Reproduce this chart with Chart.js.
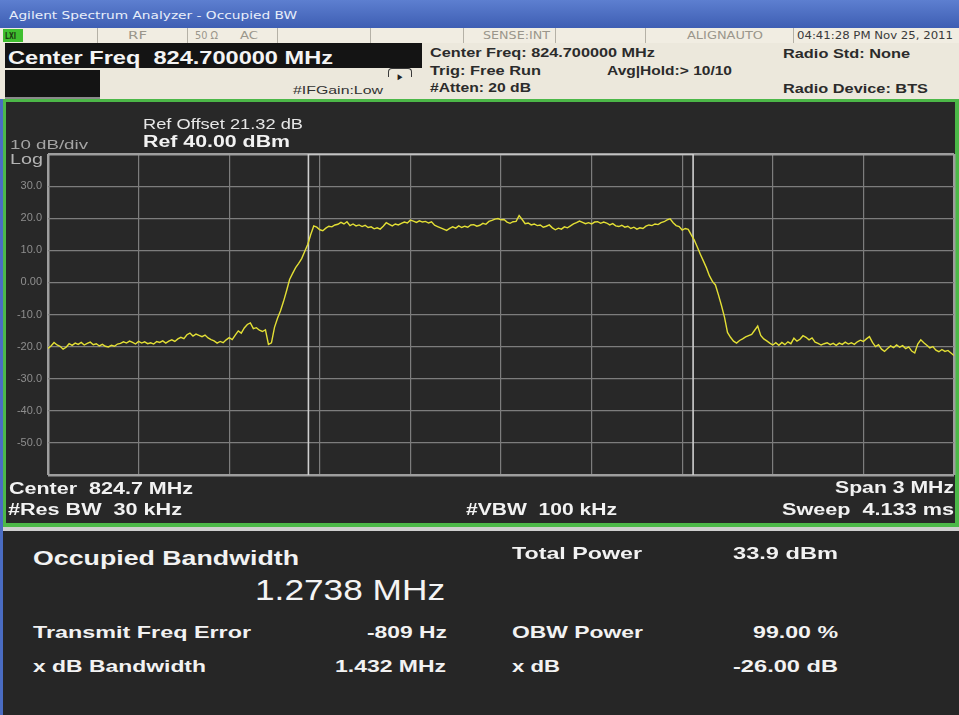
<!DOCTYPE html>
<html>
<head>
<meta charset="utf-8">
<title>Occupied BW</title>
<script src="https://cdn.jsdelivr.net/npm/chart.js@4"></script>
<style>
  body { margin: 0; width: 959px; height: 715px; overflow: hidden; position: relative; background: #262626; font-family: "Liberation Sans", Arial, sans-serif; }
  .box { position: absolute; }
  .t { position: absolute; white-space: nowrap; line-height: 1; transform-origin: 0 50%; }
  .st { font-family: "DejaVu Sans", sans-serif; font-size: 10px; color: #9a968b; }
  .hd { font-weight: bold; font-size: 13px; color: #2b2b2b; }
  .pl { color: #f2f2f2; font-weight: bold; font-size: 16px; }
  .res { color: #f2f2f2; font-weight: bold; font-size: 17px; }
  #plot { position: absolute; left: 0; top: 102px; }
</style>
</head>
<body>
<!-- window frame -->
<div class="box" style="left:0;top:0;width:959px;height:28px;background:linear-gradient(#5d7fd0,#3e5eb3);"></div>
<div class="t" style="left:9px;top:15px;font-family:'DejaVu Sans',sans-serif;font-size:11px;color:#e8eefa;" data-w="288">Agilent Spectrum Analyzer - Occupied BW</div>

<!-- status row -->
<div class="box" style="left:0;top:28px;width:959px;height:15px;background:#f1ede2;"></div>
<div class="box" style="left:97px;top:28px;width:1px;height:15px;background:#b5b1a6;"></div>
<div class="box" style="left:187px;top:28px;width:1px;height:15px;background:#b5b1a6;"></div>
<div class="box" style="left:277px;top:28px;width:1px;height:15px;background:#b5b1a6;"></div>
<div class="box" style="left:370px;top:28px;width:1px;height:15px;background:#b5b1a6;"></div>
<div class="box" style="left:463px;top:28px;width:1px;height:15px;background:#b5b1a6;"></div>
<div class="box" style="left:555px;top:28px;width:1px;height:15px;background:#b5b1a6;"></div>
<div class="box" style="left:645px;top:28px;width:1px;height:15px;background:#b5b1a6;"></div>
<div class="box" style="left:793px;top:28px;width:1px;height:15px;background:#b5b1a6;"></div>
<div class="box" style="left:3px;top:29px;width:20px;height:13px;background:#3fbf2f;"></div>
<div class="t" style="left:5px;top:36px;font-family:'DejaVu Sans',sans-serif;font-size:9px;font-weight:bold;color:#1d3a12;" data-w="11">LXI</div>
<div class="t st" style="left:128px;top:36px;" data-w="19">RF</div>
<div class="t st" style="left:195px;top:36px;" data-w="23">50 Ω</div>
<div class="t st" style="left:240px;top:36px;" data-w="18">AC</div>
<div class="t st" style="left:483px;top:36px;" data-w="67">SENSE:INT</div>
<div class="t st" style="left:687px;top:36px;" data-w="76">ALIGNAUTO</div>
<div class="t st" style="left:797px;top:36px;color:#3a3a3a;" data-w="156">04:41:28 PM Nov 25, 2011</div>

<!-- header -->
<div class="box" style="left:0;top:43px;width:959px;height:56px;background:#ece8dc;"></div>
<div class="box" style="left:5px;top:43px;width:417px;height:25px;background:#141414;"></div>
<div class="t" style="left:8px;top:57px;font-weight:bold;font-size:19px;color:#f4f4f4;" data-w="325">Center Freq&nbsp; 824.700000 MHz</div>
<div class="box" style="left:5px;top:70px;width:95px;height:27px;background:#141414;"></div>
<div class="box" style="left:5px;top:97px;width:95px;height:2px;background:#8a8a8a;"></div>
<div class="t" style="left:293px;top:90px;font-size:11px;color:#333;" data-w="90">#IFGain:Low</div>
<div class="box" style="left:388px;top:68px;width:22px;height:8px;border:1.5px solid #3a3a3a;border-bottom:none;border-radius:4px 4px 0 0;"></div>
<div class="t" style="left:396px;top:77px;font-size:10px;color:#222;" data-w="8">►</div>
<div class="t hd" style="left:430px;top:52px;" data-w="225">Center Freq: 824.700000 MHz</div>
<div class="t hd" style="left:430px;top:70px;" data-w="111">Trig: Free Run</div>
<div class="t hd" style="left:430px;top:87px;" data-w="101">#Atten: 20 dB</div>
<div class="t hd" style="left:607px;top:70px;" data-w="125">Avg|Hold:&gt; 10/10</div>
<div class="t hd" style="left:783px;top:53px;" data-w="127">Radio Std: None</div>
<div class="t hd" style="left:783px;top:88px;" data-w="145">Radio Device: BTS</div>

<!-- plot panel -->
<div class="box" style="left:0;top:99px;width:3px;height:616px;background:#4a6cc2;"></div>
<div class="box" style="left:3px;top:99px;width:956px;height:428px;background:#4cb848;"></div>
<div class="box" style="left:6px;top:102px;width:949px;height:421px;background:#282828;"></div>
<canvas id="plot" width="959" height="421"></canvas>
<div class="t" style="left:143px;top:124px;font-size:14px;color:#e6e6e6;" data-w="160">Ref Offset 21.32 dB</div>
<div class="t" style="left:143px;top:142px;font-size:16px;font-weight:bold;color:#f2f2f2;" data-w="147">Ref 40.00 dBm</div>
<div class="t" style="left:10px;top:144px;font-size:13px;color:#a4a4a4;" data-w="78">10 dB/div</div>
<div class="t" style="left:10px;top:159px;font-size:14px;color:#b4b4b4;" data-w="33">Log</div>
<div class="t pl" style="left:9px;top:489px;" data-w="184">Center&nbsp; 824.7 MHz</div>
<div class="t pl" style="left:8px;top:510px;" data-w="174">#Res BW&nbsp; 30 kHz</div>
<div class="t pl" style="left:466px;top:510px;" data-w="151">#VBW&nbsp; 100 kHz</div>
<div class="t pl" style="left:835px;top:488px;" data-w="119">Span 3 MHz</div>
<div class="t pl" style="left:782px;top:510px;" data-w="172">Sweep&nbsp; 4.133 ms</div>

<!-- result panel -->
<div class="box" style="left:3px;top:527px;width:956px;height:4px;background:#cfcfcf;"></div>
<div class="box" style="left:3px;top:531px;width:956px;height:184px;background:#262626;"></div>
<div class="t" style="left:33px;top:557px;font-size:21px;font-weight:bold;color:#f2f2f2;" data-w="266">Occupied Bandwidth</div>
<div class="t" style="left:255px;top:590px;font-size:30px;color:#f4f4f4;" data-w="190">1.2738 MHz</div>
<div class="t res" style="left:33px;top:632px;" data-w="218">Transmit Freq Error</div>
<div class="t res" style="left:367px;top:632px;" data-w="80">-809 Hz</div>
<div class="t res" style="left:33px;top:666px;" data-w="173">x dB Bandwidth</div>
<div class="t res" style="left:335px;top:666px;" data-w="111">1.432 MHz</div>
<div class="t res" style="left:512px;top:553px;" data-w="130">Total Power</div>
<div class="t res" style="left:733px;top:553px;" data-w="105">33.9 dBm</div>
<div class="t res" style="left:512px;top:632px;" data-w="131">OBW Power</div>
<div class="t res" style="left:753px;top:632px;" data-w="85">99.00 %</div>
<div class="t res" style="left:512px;top:666px;" data-w="48">x dB</div>
<div class="t res" style="left:733px;top:666px;" data-w="105">-26.00 dB</div>

<script>
// sweep: 823.2 .. 826.2 MHz, one reading every 10 kHz
const startMHz = 823.2;
const stepMHz = 0.01;
const levelDbm = [
  -20.6, -19.8, -18.7, -19.5, -19.9, -20.8, -20.2, -19.1, -19.6, -18.9,
  -19.3, -18.7, -19.5, -19.0, -18.6, -19.4, -19.1, -19.8, -19.3, -19.9,
  -20.1, -19.6, -19.9, -19.2, -19.0, -18.5, -18.9, -18.3, -18.7, -19.2,
  -18.4, -18.9, -18.5, -19.1, -18.8, -19.2, -18.4, -18.7, -18.2, -18.9,
  -18.3, -17.9, -18.4, -17.6, -17.1, -17.5, -16.3, -15.8, -16.7, -16.1,
  -16.5, -16.9, -16.4, -17.3, -17.8, -18.2, -18.9, -18.4, -18.8, -17.9,
  -17.2, -17.8, -16.4, -15.1, -15.8, -14.2, -13.1, -12.6, -14.4, -14.1,
  -14.9, -15.3, -14.8, -19.3, -18.8, -14.0, -11.2, -8.8, -5.9, -2.6,
  0.9, 2.8, 4.6, 5.9, 7.4, 9.6, 11.8, 14.9, 17.6, 17.2,
  16.4, 16.1, 16.9, 17.5, 17.3, 17.9, 18.1, 18.7, 18.2, 18.9,
  17.7, 18.2, 17.6, 17.9, 17.4, 17.8, 17.1, 17.3, 16.7, 17.0,
  16.6, 17.5, 18.6, 18.1, 17.6, 18.2, 17.9, 18.4, 18.8, 18.5,
  19.4, 19.1, 18.7, 19.2, 18.8, 19.0, 18.5, 18.9, 17.8, 17.4,
  17.0, 16.6, 16.2, 16.8, 17.3, 16.9, 17.6, 17.1, 17.5, 17.2,
  17.9, 18.0, 17.5, 17.8, 18.4, 18.1, 19.0, 19.3, 19.7, 19.9,
  19.5, 19.6, 18.8, 18.4, 18.9, 19.0, 20.8, 19.6, 18.3, 18.5,
  17.9, 18.2, 17.7, 17.9, 17.2, 17.5, 17.9, 17.0, 16.4, 16.9,
  16.6, 17.3, 17.0, 17.6, 18.2, 18.6, 19.1, 18.7, 18.3, 18.6,
  18.2, 18.8, 18.9, 18.4, 18.8, 18.5, 17.9, 18.3, 17.6, 17.4,
  17.8, 17.2, 17.5, 16.8, 17.2, 16.6, 17.0, 16.8, 17.5, 17.9,
  17.7, 18.2, 18.0, 18.6, 18.9, 19.5, 19.8, 18.6, 17.7, 17.4,
  16.3, 16.8, 16.5, 14.8, 13.2, 11.0, 8.8, 6.7, 4.6, 2.1,
  0.3, -0.8, -3.9, -7.2, -10.8, -15.6, -17.1, -18.3, -18.9, -18.1,
  -17.6, -17.0, -16.6, -16.2, -14.9, -13.6, -16.5, -17.6, -18.2, -18.9,
  -19.5, -18.8, -19.6, -18.7, -19.4, -18.5, -19.1, -17.4, -18.3, -17.7,
  -16.6, -17.1, -17.9, -17.3, -18.6, -19.0, -19.5, -19.1, -18.8, -19.4,
  -19.0, -19.6, -18.9, -19.3, -18.6, -19.2, -18.8, -19.3, -18.5, -18.0,
  -18.4, -17.6, -16.9, -18.7, -20.0, -19.4, -20.8, -21.5, -20.6, -19.8,
  -20.3, -19.5, -20.2, -19.7, -20.6, -20.1, -21.4, -22.0, -19.2, -17.9,
  -18.8, -19.6, -20.4, -20.0, -21.1, -21.6, -20.9, -21.5, -21.2, -22.0,
  -22.8
];

// occupied bandwidth markers
const obwLowMHz = 824.0623;
const obwHighMHz = 825.3361;

const xGridMHz = [823.2, 823.5, 823.8, 824.1, 824.4, 824.7, 825.0, 825.3, 825.6, 825.9, 826.2];
const yGridDbm = [-60, -50, -40, -30, -20, -10, 0, 10, 20, 30, 40];
const yTickLabels = ['', '-50.0', '-40.0', '-30.0', '-20.0', '-10.0', '0.00', '10.0', '20.0', '30.0', ''];

// squeeze every label to the width it has in the screenshot
document.querySelectorAll('.t').forEach(el => {
  const w = +el.dataset.w;
  const nat = el.getBoundingClientRect().width;
  el.style.transform = 'translateY(-50%) scaleX(' + (w / nat) + ')';
});

const trace = levelDbm.map((v, i) => ({ x: startMHz + i * stepMHz, y: v }));
const markers = [
  { x: obwLowMHz, y: -60 }, { x: obwLowMHz, y: 40 },
  { x: obwHighMHz, y: 40 }, { x: obwHighMHz, y: -60 }
];

const edge = (ctx, a, b) => ctx.index === 0 || ctx.index === ctx.chart.scales[ctx.scale.id].ticks.length - 1 ? a : b;

new Chart(document.getElementById('plot'), {
  type: 'line',
  data: {
    datasets: [
      {
        data: trace,
        borderColor: '#e3df35',
        borderWidth: 1.4,
        pointRadius: 0,
        tension: 0,
        order: 0,
      },
      {
        data: markers,
        borderColor: '#cfcfcf',
        borderWidth: 1.6,
        pointRadius: 0,
        tension: 0,
        order: 1,
      },
    ],
  },
  options: {
    responsive: false,
    animation: false,
    devicePixelRatio: 1,
    layout: { padding: { left: 0, top: 52, right: 5, bottom: 48 } },
    plugins: { legend: { display: false }, tooltip: { enabled: false } },
    scales: {
      x: {
        type: 'linear',
        min: 823.2,
        max: 826.2,
        afterBuildTicks: s => { s.ticks = xGridMHz.map(v => ({ value: v })); },
        afterFit: s => { s.height = 0; },
        ticks: { display: false },
        border: { display: false },
        grid: {
          drawTicks: false,
          color: ctx => edge(ctx, '#9e9e9e', '#7d7d7d'),
          lineWidth: ctx => edge(ctx, 2.5, 1.2),
        },
      },
      y: {
        min: -60,
        max: 40,
        afterBuildTicks: s => { s.ticks = yGridDbm.map(v => ({ value: v })); },
        afterFit: s => { s.width = 48; },
        ticks: {
          padding: 6,
          color: '#8e8e8e',
          font: { family: 'Liberation Sans', size: 11 },
          callback: (v, i) => yTickLabels[i],
        },
        border: { display: false },
        grid: {
          drawTicks: false,
          color: ctx => edge(ctx, '#9e9e9e', '#7d7d7d'),
          lineWidth: ctx => edge(ctx, 2.5, 1.2),
        },
      },
    },
  },
});
</script>
</body>
</html>
